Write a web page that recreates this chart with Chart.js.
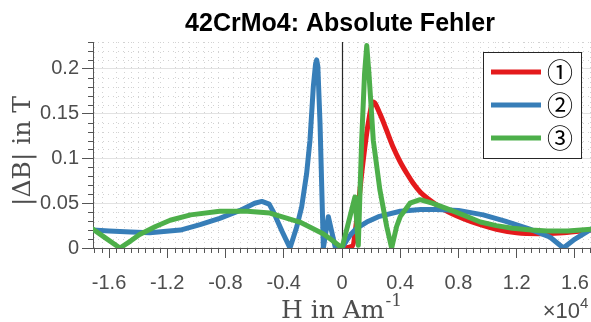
<!DOCTYPE html>
<html>
<head>
<meta charset="utf-8">
<script src="https://cdn.jsdelivr.net/npm/chart.js@4.4.1/dist/chart.umd.min.js"></script>
<style>
  html, body { margin: 0; padding: 0; background: #fff; }
</style>
</head>
<body>
<canvas id="errChart" width="591" height="322"></canvas>
<script>
// field strength H in A/m, absolute error |dB| in T
var hRed   = [0, 700, 1000, 1400, 1800, 2150, 2600, 3000, 3500, 4000, 4500, 4900, 5400, 6000, 7000, 8300, 9500, 10600, 12000, 13500, 15200, 17100];
var dbRed  = [0, 0.002, 0.030, 0.090, 0.139, 0.163, 0.150, 0.134, 0.113, 0.096, 0.082, 0.072, 0.062, 0.054, 0.043, 0.033, 0.026, 0.021, 0.017, 0.016, 0.017, 0.020];

var hBlue  = [-17100, -16000, -14500, -13200, -11100, -9750, -8400, -7000, -6000, -5500, -5000, -4700, -4100, -3570, -3100, -2770, -2430, -2200, -1970, -1820, -1740, -1660, -1510, -1280, -940, -450, 0, 300, 600, 1000, 1700, 2500, 4000, 5400, 6500, 8000, 9700, 11200, 12900, 14300, 15200, 16000, 17100];
var dbBlue = [0.020, 0.019, 0.018, 0.017, 0.020, 0.026, 0.033, 0.042, 0.050, 0.052, 0.049, 0.040, 0.018, 0, 0.024, 0.046, 0.083, 0.120, 0.180, 0.205, 0.210, 0.203, 0.140, 0, 0.035, 0, 0, 0.008, 0.015, 0.022, 0.029, 0.035, 0.041, 0.043, 0.043, 0.042, 0.037, 0.030, 0.021, 0.012, 0, 0.010, 0.021];

var hGreen  = [-17100, -16400, -15250, -14500, -13900, -12800, -11800, -10400, -8400, -6500, -4950, -2900, -1300, -700, 0, 890, 1120, 1350, 1550, 1700, 1850, 2150, 2600, 3070, 3410, 3750, 4000, 4670, 5360, 6200, 7200, 8300, 9500, 10600, 11700, 13000, 14100, 15500, 17100];
var dbGreen = [0.021, 0.013, 0, 0.008, 0.015, 0.024, 0.031, 0.037, 0.041, 0.041, 0.039, 0.029, 0.016, 0.009, 0, 0.057, 0.003, 0.120, 0.195, 0.226, 0.195, 0.120, 0.065, 0.024, 0, 0.024, 0.035, 0.050, 0.054, 0.050, 0.044, 0.037, 0.029, 0.025, 0.022, 0.020, 0.019, 0.019, 0.021];

var seriesNames = ['\u2460', '\u2461', '\u2462'];

var xTicks = [-16000, -12000, -8000, -4000, 0, 4000, 8000, 12000, 16000];
var xTickLabels = ['-1.6', '-1.2', '-0.8', '-0.4', '0', '0.4', '0.8', '1.2', '1.6'];
var yTicks = [0, 0.05, 0.1, 0.15, 0.2];
var yTickLabels = ['0', '0.05', '0.1', '0.15', '0.2'];

var axisGray = '#555555';
var textGray = '#4d4d4d';

function pts(xs, ys) {
    return xs.map(function (x, i) { return { x: x, y: ys[i] }; });
}

/* minor grid, minor ticks, titles and boxed legend */
var matlabAxes = {
    id: 'matlabAxes',
    beforeDraw: function (chart) {
        var c = chart.ctx, a = chart.chartArea;
        var sx = chart.scales.x, sy = chart.scales.y;
        c.save();
        c.strokeStyle = '#d2d2d2';
        c.lineWidth = 1;
        c.setLineDash([1, 4]);
        for (var h = -17000; h <= 17000; h += 500) {
            if (h % 4000 === 0) continue;
            var px = Math.round(sx.getPixelForValue(h)) + 0.5;
            c.beginPath(); c.moveTo(px, a.top); c.lineTo(px, a.bottom); c.stroke();
        }
        for (var k = 1; k <= 23; k++) {
            if (k % 5 === 0) continue;
            var py = Math.round(sy.getPixelForValue(k / 100)) + 0.5;
            c.beginPath(); c.moveTo(a.left, py); c.lineTo(a.right, py); c.stroke();
        }
        c.restore();
    },
    beforeDatasetsDraw: function (chart) {
        var c = chart.ctx, a = chart.chartArea;
        var px = Math.round(chart.scales.x.getPixelForValue(0)) + 0.5;
        c.save();
        c.strokeStyle = '#262626';
        c.lineWidth = 1.2;
        c.beginPath(); c.moveTo(px, a.top); c.lineTo(px, a.bottom); c.stroke();
        c.restore();
    },
    afterDraw: function (chart) {
        var c = chart.ctx, a = chart.chartArea;
        var sx = chart.scales.x, sy = chart.scales.y;
        c.save();

        // minor ticks
        c.strokeStyle = axisGray;
        c.lineWidth = 1;
        for (var h = -17000; h <= 17000; h += 500) {
            if (h % 4000 === 0) continue;
            var px = Math.round(sx.getPixelForValue(h)) + 0.5;
            c.beginPath(); c.moveTo(px, a.bottom); c.lineTo(px, a.bottom + 5); c.stroke();
        }
        for (var k = 1; k <= 23; k++) {
            if (k % 5 === 0) continue;
            var py = Math.round(sy.getPixelForValue(k / 100)) + 0.5;
            c.beginPath(); c.moveTo(a.left, py); c.lineTo(a.left - 5, py); c.stroke();
        }

        // title
        c.fillStyle = '#000';
        c.font = 'bold 25px "Liberation Sans", Arial, sans-serif';
        c.textAlign = 'center';
        c.textBaseline = 'alphabetic';
        c.fillText('42CrMo4: Absolute Fehler', 340, 31);

        // y axis title
        c.fillStyle = textGray;
        c.font = '25px "DejaVu Serif", serif';
        c.save();
        c.translate(30, 151);
        c.rotate(-Math.PI / 2);
        c.fillText('|\u0394B| in T', 0, 0);
        c.restore();

        // x axis title with superscript
        var base = 'H in Am', sup = '-1';
        c.font = '25px "DejaVu Serif", serif';
        var wBase = c.measureText(base).width;
        c.font = '17px "DejaVu Serif", serif';
        var wSup = c.measureText(sup).width;
        var x0 = 341 - (wBase + wSup) / 2;
        c.textAlign = 'left';
        c.font = '25px "DejaVu Serif", serif';
        c.fillText(base, x0, 318);
        c.font = '17px "DejaVu Serif", serif';
        c.fillText(sup, x0 + wBase + 1, 306);

        // exponent of the x axis
        c.font = '22px "Liberation Sans", Arial, sans-serif';
        c.textAlign = 'right';
        c.fillText('\u00d710', 580, 318);
        c.font = '15px "Liberation Sans", Arial, sans-serif';
        c.textAlign = 'left';
        c.fillText('4', 580, 308);

        // legend
        var bx = 483.5, by = 52.5, bw = 98, bh = 106;
        c.fillStyle = '#fff';
        c.fillRect(bx, by, bw, bh);
        c.strokeStyle = '#262626';
        c.lineWidth = 1;
        c.strokeRect(bx, by, bw, bh);
        var rows = [72, 105, 138];
        chart.data.datasets.forEach(function (ds, i) {
            c.strokeStyle = ds.borderColor;
            c.lineWidth = 5;
            c.lineCap = 'butt';
            c.beginPath(); c.moveTo(491, rows[i]); c.lineTo(541, rows[i]); c.stroke();
            c.fillStyle = '#000';
            c.font = '26px "Noto Sans CJK JP", "DejaVu Sans", serif';
            c.textAlign = 'left';
            c.textBaseline = 'middle';
            c.fillText(ds.label, 547, rows[i]);
        });
        c.restore();
    }
};

var ctx = document.getElementById('errChart');
var errChart = new Chart(ctx, {
    type: 'line',
    data: {
        datasets: [
            { label: seriesNames[0], data: pts(hRed, dbRed), borderColor: '#e41a1c', order: 3, cubicInterpolationMode: 'monotone' },
            { label: seriesNames[1], data: pts(hBlue, dbBlue), borderColor: '#377eb8', order: 2 },
            { label: seriesNames[2], data: pts(hGreen, dbGreen), borderColor: '#4daf4a', order: 1 }
        ]
    },
    options: {
        responsive: false,
        animation: false,
        devicePixelRatio: 1,
        layout: { padding: { top: 42, right: 0, bottom: 0, left: 0 } },
        elements: {
            point: { radius: 0 },
            line: { borderWidth: 5, tension: 0, borderJoinStyle: 'round', borderCapStyle: 'round', fill: false }
        },
        plugins: {
            legend: { display: false },
            tooltip: { enabled: false }
        },
        scales: {
            x: {
                type: 'linear',
                min: -17100,
                max: 17100,
                afterBuildTicks: function (s) { s.ticks = xTicks.map(function (v) { return { value: v }; }); },
                afterFit: function (s) { s.height = 74; s.paddingLeft = 0; s.paddingRight = 0; },
                grid: { color: 'rgba(0,0,0,0)', tickColor: axisGray, tickLength: 10, tickWidth: 1 },
                border: { color: axisGray, width: 1 },
                ticks: {
                    color: textGray,
                    font: { family: 'Liberation Sans', size: 20 },
                    padding: 13,
                    maxRotation: 0,
                    autoSkip: false,
                    callback: function (v) { return xTickLabels[xTicks.indexOf(v)]; }
                }
            },
            y: {
                type: 'linear',
                min: 0,
                max: 0.23,
                afterBuildTicks: function (s) { s.ticks = yTicks.map(function (v) { return { value: v }; }); },
                afterFit: function (s) { s.width = 93; s.paddingTop = 0; s.paddingBottom = 0; },
                grid: { color: '#e2e2e2', tickColor: axisGray, tickLength: 11, tickWidth: 1 },
                border: { color: axisGray, width: 1 },
                ticks: {
                    color: textGray,
                    font: { family: 'Liberation Sans', size: 20 },
                    padding: 3,
                    autoSkip: false,
                    callback: function (v) { return yTickLabels[yTicks.indexOf(v)]; }
                }
            }
        }
    },
    plugins: [matlabAxes]
});
</script>
</body>
</html>
